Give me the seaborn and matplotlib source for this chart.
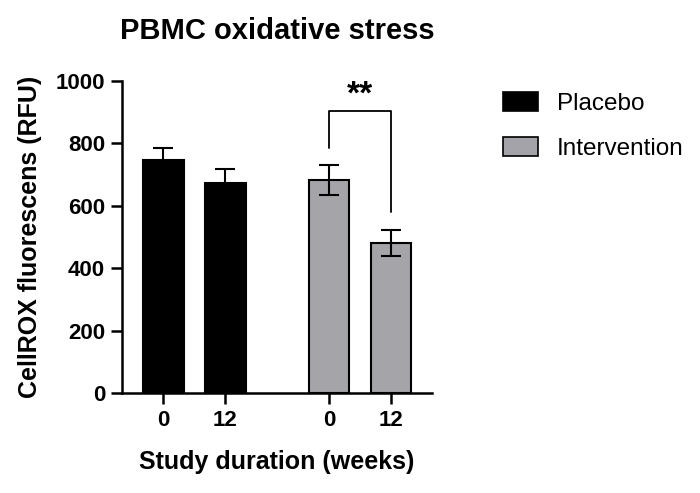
import numpy as np
import pandas as pd
import matplotlib
matplotlib.use('Agg')
import matplotlib.pyplot as plt
import matplotlib.patches as mpatches
import seaborn as sns

# values (mean +/- SEM)
groups = ['Placebo', 'Placebo', 'Intervention', 'Intervention']
weeks = ['0', '12', '0', '12']
means = [746, 674, 681, 481]
sems = [40, 45, 48, 41]
positions = [0, 1, 2.67, 3.67]

colors = {'Placebo': 'black', 'Intervention': '#a4a3a9'}

df = pd.DataFrame({'group': groups, 'weeks': weeks,
                   'mean': means, 'sem': sems, 'pos': positions})

sns.set_style('ticks')
plt.rcParams['font.family'] = ['Liberation Sans', 'DejaVu Sans']
plt.rcParams['text.color'] = 'black'
plt.rcParams['axes.labelcolor'] = 'black'
plt.rcParams['xtick.color'] = 'black'
plt.rcParams['ytick.color'] = 'black'
plt.rcParams['axes.edgecolor'] = 'black'

fig = plt.figure(figsize=(7, 4.93), dpi=100)
ax = fig.add_axes([0.174, 0.203, 0.443, 0.633])

sns.barplot(data=df, x='pos', y='mean', hue='group', palette=colors,
            native_scale=True, dodge=False, width=0.65, errorbar=None,
            edgecolor='black', linewidth=1.5, legend=False, ax=ax)

ax.errorbar(df['pos'], df['mean'], yerr=df['sem'], fmt='none',
            ecolor='black', elinewidth=1.5, capsize=7.5, capthick=1.5)

# significance bracket
x1, x2 = positions[2], positions[3]
ax.plot([x1, x1, x2, x2], [786, 904, 904, 580], color='black', lw=1.3)
ax.text((x1 + x2) / 2, 905, '**', ha='center', va='bottom',
        fontsize=24, fontweight='bold')

ax.set_ylim(0, 1000)
ax.set_xlim(-0.67, 4.33)
ax.set_yticks([0, 200, 400, 600, 800, 1000])
ax.set_xticks(positions)
ax.set_xticklabels(weeks)
for s in ['top', 'right']:
    ax.spines[s].set_visible(False)
for s in ['left', 'bottom']:
    ax.spines[s].set_linewidth(1.8)
ax.tick_params(width=1.8, length=8, labelsize=16, pad=4)
for lab in ax.get_xticklabels() + ax.get_yticklabels():
    lab.set_fontweight('bold')

ax.set_xlabel('Study duration (weeks)', fontsize=18, fontweight='bold', labelpad=14)
ax.set_ylabel('CellROX fluorescens (RFU)', fontsize=18, fontweight='bold', labelpad=10)
ax.set_title('PBMC oxidative stress', fontsize=21, fontweight='bold', pad=30)

handles = [mpatches.Patch(facecolor=colors[g], edgecolor='black', linewidth=1.2, label=g)
           for g in ['Placebo', 'Intervention']]
fig.legend(handles=handles, loc='upper left', bbox_to_anchor=(0.688, 0.857),
           frameon=False, fontsize=17.5, handlelength=1.4, handleheight=0.8,
           labelspacing=0.9, handletextpad=0.8)

fig.savefig('out.png', dpi=100)
